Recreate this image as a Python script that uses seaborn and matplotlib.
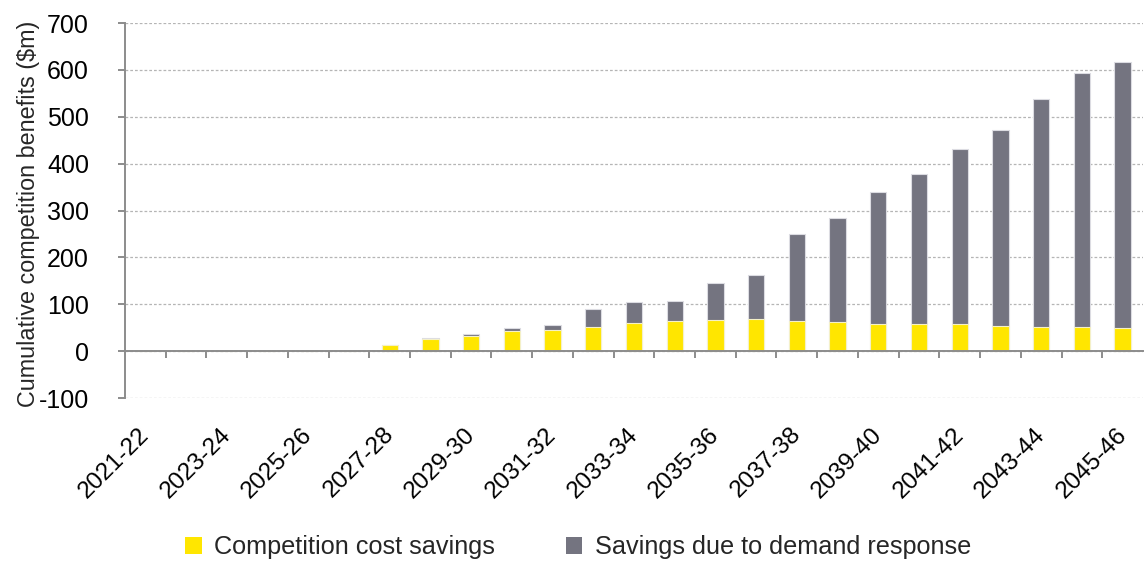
import matplotlib
matplotlib.use("Agg")
import matplotlib.pyplot as plt
from matplotlib import font_manager
from matplotlib.ticker import FixedLocator, MultipleLocator
from matplotlib.patches import Patch
from matplotlib.transforms import ScaledTranslation
import numpy as np
import pandas as pd
import seaborn as sns

# Financial years on the x axis
years = [
    "2021-22", "2022-23", "2023-24", "2024-25", "2025-26", "2026-27",
    "2027-28", "2028-29", "2029-30", "2030-31", "2031-32", "2032-33",
    "2033-34", "2034-35", "2035-36", "2036-37", "2037-38", "2038-39",
    "2039-40", "2040-41", "2041-42", "2042-43", "2043-44", "2044-45",
    "2045-46",
]

# Cumulative benefits ($m) by component
competition_cost_savings = [
    0, 0, 0, 0, 0, 0,
    14, 26, 33, 44, 45, 51,
    60, 65, 67, 68, 65, 62,
    59, 58, 57, 54, 52, 52,
    49,
]
demand_response_savings = [
    0, 0, 0, 0, 0, 0,
    0, 2, 4, 6, 10, 39,
    44, 43, 79, 95, 185, 221,
    280, 319, 374, 417, 485, 541,
    568,
]

series_labels = ["Competition cost savings", "Savings due to demand response"]
YELLOW = "#FFE600"
GREY = "#747480"
AXIS_GREY = "#8c8c8c"

sns.set_theme(style="white")
available = {f.name for f in font_manager.fontManager.ttflist}
base_font = "Liberation Sans Narrow" if "Liberation Sans Narrow" in available else "Liberation Sans"
plt.rcParams["font.family"] = [base_font, "DejaVu Sans"]
plt.rcParams["axes.unicode_minus"] = False

df = pd.DataFrame({
    "year": years,
    "competition": competition_cost_savings,
    "demand": demand_response_savings,
})
df["total"] = df["competition"] + df["demand"]

fig = plt.figure(figsize=(11.45, 5.67), dpi=100)
ax = fig.add_axes([0.1092, 0.298, 0.889, 0.6614])

bar_width = 0.4
# Stack: full height in grey, competition component drawn over the base
sns.barplot(data=df, x="year", y="total", color=GREY, width=bar_width,
            saturation=1, edgecolor="#dcdce2", linewidth=0.8, ax=ax, zorder=3)
sns.barplot(data=df, x="year", y="competition", color=YELLOW, width=bar_width,
            saturation=1, edgecolor="#f4f0c8", linewidth=0.8, ax=ax, zorder=4)

ax.set_ylim(-100, 700)
ax.set_xlim(-0.5, len(years) - 0.5)
ax.yaxis.set_major_locator(MultipleLocator(100))

# Dotted horizontal gridlines
ax.yaxis.grid(True, color="#b5b5b5", linestyle=(0, (2.2, 1.6)), linewidth=0.9, zorder=0)
ax.xaxis.grid(False)
ax.set_axisbelow(True)

# Category axis sits on the zero line
for side in ("top", "right"):
    ax.spines[side].set_visible(False)
ax.spines["bottom"].set_position(("data", 0))
for side in ("left", "bottom"):
    ax.spines[side].set_color(AXIS_GREY)
    ax.spines[side].set_linewidth(1.4)
ax.spines["bottom"].set_zorder(5)

# Labels on every other year; tick marks between categories
label_idx = np.arange(0, len(years), 2)
ax.xaxis.set_major_locator(FixedLocator(label_idx))
ax.set_xticklabels([years[i] for i in label_idx], rotation=45, ha="right", va="top")
ax.xaxis.set_minor_locator(FixedLocator(np.arange(0.5, len(years) - 0.5, 1)))
ax.tick_params(axis="x", which="major", length=0, pad=52, labelsize=17.5, colors="black")
ax.tick_params(axis="x", which="minor", bottom=True, length=5, width=1.4, color=AXIS_GREY, direction="out")
ax.tick_params(axis="y", which="major", left=True, length=5, width=1.4, color=AXIS_GREY,
               direction="out", pad=21, labelsize=18, labelcolor="black")
shift = ScaledTranslation(6 / 72, 0, fig.dpi_scale_trans)
for lbl in ax.get_xticklabels():
    lbl.set_transform(lbl.get_transform() + shift)

ax.set_xlabel("")
ax.set_ylabel("Cumulative competition benefits ($m)", fontsize=16.8)
ax.yaxis.set_label_coords(-0.084, 0.49)

handles = [Patch(facecolor=YELLOW, edgecolor="none"), Patch(facecolor=GREY, edgecolor="none")]
fig.legend(handles, series_labels, loc="center", bbox_to_anchor=(0.505, 0.035), ncol=2,
           frameon=False, fontsize=18.2, handlelength=0.65, handleheight=0.65,
           handletextpad=0.5, columnspacing=2.8)

fig.savefig("out.png", dpi=100)
